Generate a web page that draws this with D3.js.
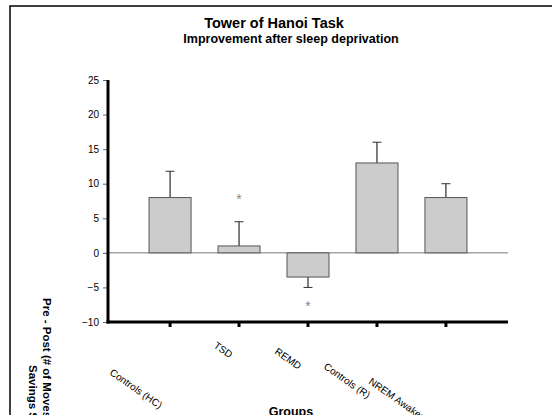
<!DOCTYPE html>
<html>
<head>
<meta charset="utf-8">
<script src="https://cdn.jsdelivr.net/npm/d3@7/dist/d3.min.js"></script>
<style>
  html, body { margin: 0; padding: 0; background: #fff; }
  svg { display: block; font-family: Arial, "Liberation Sans", sans-serif; }
</style>
</head>
<body>
<svg id="chart" width="552" height="415"></svg>
<script>
// ---- data ----
const categories = ["Controls (HC)", "TSD", "REMD", "Controls (R)", "NREM Awakenings"];
const means = [8, 1, -3.5, 13, 8];
const errorEnds = [11.8, 4.5, -5, 16, 10];
const sigCategories = ["TSD", "REMD"];
const sigValues = [8.2, -7.2];
const yTicks = [-10, -5, 0, 5, 10, 15, 20, 25];

const titleText = "Tower of Hanoi Task";
const subtitleText = "Improvement after sleep deprivation";
const xTitle = "Groups";
const yTitleLines = ["Pre - Post  (# of Moves", "Savings Score)"];

// ---- layout ----
const W = 552, H = 415;
const plot = { left: 108, right: 508, top: 80, bottom: 322 };
const barWidth = 42;
// label baseline-start offsets relative to each tick (dx, absolute y)
const labelDx = [-61, -26, -34, -54, -78];
const labelY = [374, 347, 353, 368, 383];

const svg = d3.select("#chart");

// frame
svg.append("rect")
  .attr("x", 10).attr("y", 6)
  .attr("width", W + 20).attr("height", H + 20)
  .attr("fill", "#fff").attr("stroke", "#000").attr("stroke-width", 1.5);

const x = d3.scalePoint().domain(categories).range([plot.left, plot.right]).padding(0.9);
const y = d3.scaleLinear().domain([-10, 25]).range([plot.bottom, plot.top]);

// titles
svg.append("text").attr("x", 274).attr("y", 28)
  .attr("text-anchor", "middle").attr("font-weight", "bold").attr("font-size", 14.5)
  .text(titleText);
svg.append("text").attr("x", 291).attr("y", 43)
  .attr("text-anchor", "middle").attr("font-weight", "bold").attr("font-size", 12.5)
  .text(subtitleText);

// y axis ticks
const yAxis = d3.axisLeft(y).tickValues(yTicks).tickSize(5).tickPadding(4);
const gy = svg.append("g").attr("transform", `translate(${plot.left},0)`).call(yAxis);
gy.select(".domain").remove();
gy.selectAll(".tick line").attr("stroke", "#666").attr("stroke-width", 1);
gy.selectAll(".tick text").attr("font-size", 10).attr("font-family", "Arial, 'Liberation Sans', sans-serif").attr("fill", "#000");

// zero line
svg.append("line")
  .attr("x1", plot.left).attr("x2", plot.right)
  .attr("y1", y(0)).attr("y2", y(0))
  .attr("stroke", "#777").attr("stroke-width", 1);

// bars
const data = categories.map((c, i) => ({ c, v: means[i], e: errorEnds[i] }));

// error bars
const eg = svg.append("g");
eg.selectAll("line.stem").data(data).join("line")
  .attr("x1", d => x(d.c)).attr("x2", d => x(d.c))
  .attr("y1", d => y(d.v)).attr("y2", d => y(d.e))
  .attr("stroke", "#000").attr("stroke-width", 1);
eg.selectAll("line.cap").data(data).join("line")
  .attr("x1", d => x(d.c) - 4.5).attr("x2", d => x(d.c) + 4.5)
  .attr("y1", d => y(d.e)).attr("y2", d => y(d.e))
  .attr("stroke", "#333").attr("stroke-width", 1);

svg.append("g").selectAll("rect").data(data).join("rect")
  .attr("x", d => x(d.c) - barWidth / 2)
  .attr("width", barWidth)
  .attr("y", d => y(Math.max(0, d.v)))
  .attr("height", d => Math.abs(y(d.v) - y(0)))
  .attr("fill", "#cccccc").attr("stroke", "#555").attr("stroke-width", 1);

// significance asterisks
svg.append("g").selectAll("text").data(sigCategories).join("text")
  .attr("x", d => x(d))
  .attr("y", (d, i) => y(sigValues[i]) + 8)
  .attr("text-anchor", "middle").attr("font-size", 14).attr("fill", "#888")
  .text("*");

// axes lines (thick)
svg.append("line")
  .attr("x1", plot.left).attr("x2", plot.left)
  .attr("y1", plot.top).attr("y2", plot.bottom + 1.5)
  .attr("stroke", "#000").attr("stroke-width", 3);
svg.append("line")
  .attr("x1", plot.left - 1.5).attr("x2", plot.right)
  .attr("y1", plot.bottom).attr("y2", plot.bottom)
  .attr("stroke", "#000").attr("stroke-width", 3);

// x ticks
svg.append("g").selectAll("line").data(categories).join("line")
  .attr("x1", d => x(d)).attr("x2", d => x(d))
  .attr("y1", plot.bottom).attr("y2", plot.bottom + 5)
  .attr("stroke", "#000").attr("stroke-width", 3);

// x labels rotated
svg.append("g").selectAll("text").data(categories).join("text")
  .attr("transform", (d, i) => `translate(${x(d) + labelDx[i]},${labelY[i]}) rotate(35)`)
  .attr("font-size", 10).attr("fill", "#000")
  .text(d => d);

// x title
svg.append("text").attr("x", 291).attr("y", 416)
  .attr("text-anchor", "middle").attr("font-weight", "bold").attr("font-size", 12.5)
  .text(xTitle);

// y title (rotated, reading downward)
yTitleLines.forEach((t, i) => {
  const cx = [43, 29][i];
  const sy = [298, 365][i];
  svg.append("text")
    .attr("transform", `translate(${cx},${sy}) rotate(90)`)
    .attr("font-weight", "bold").attr("font-size", 11.5)
    .text(t);
});
</script>
</body>
</html>
